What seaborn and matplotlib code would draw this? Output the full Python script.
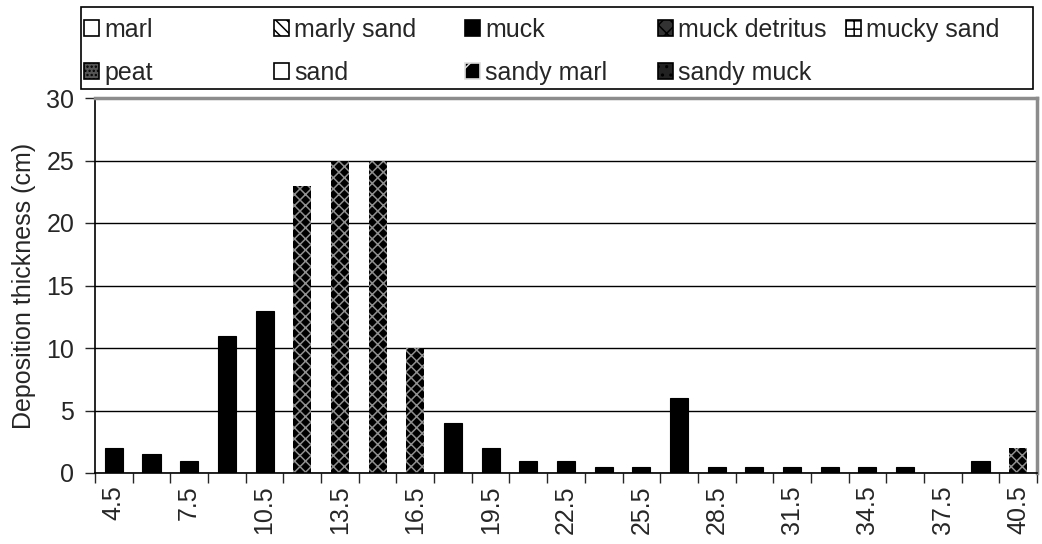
import pandas as pd
import matplotlib
matplotlib.use('Agg')
import matplotlib.pyplot as plt
import matplotlib.patches as mpatches
import seaborn as sns

depths = ['4.5', '6', '7.5', '9', '10.5', '12', '13.5', '15', '16.5', '18', '19.5', '21', '22.5',
          '24', '25.5', '27', '28.5', '30', '31.5', '33', '34.5', '36', '37.5', '39', '40.5']
thickness = [2, 1.5, 1, 11, 13, 23, 25, 25, 10, 4, 2, 1, 1,
             0.5, 0.5, 6, 0.5, 0.5, 0.5, 0.5, 0.5, 0.5, 0, 1, 2]
material = ['muck'] * 5 + ['muck detritus'] * 4 + ['muck'] * 15 + ['muck detritus']
legend_cols = [['marl', 'peat'], ['marly sand', 'sand'], ['muck', 'sandy marl'],
               ['muck detritus', 'sandy muck'], ['mucky sand']]

df = pd.DataFrame({'depth': depths, 'thickness': thickness, 'material': material})

sns.set_style('white')
plt.rcParams['font.family'] = ['Liberation Sans', 'DejaVu Sans']
plt.rcParams['hatch.linewidth'] = 1.1
FS = 18

fig = plt.figure(figsize=(10.42, 5.44), dpi=100)
ax = fig.add_axes([95 / 1042, 1 - 473 / 544, 942 / 1042, 375 / 544])

sns.barplot(data=df, x='depth', y='thickness', hue='material', order=depths,
            hue_order=['muck', 'muck detritus'], dodge=False, width=0.48,
            palette={'muck': 'black', 'muck detritus': 'black'},
            edgecolor='black', linewidth=0.8, legend=False, ax=ax)

# patterned fill for muck detritus bars
for bar in ax.patches:
    i = int(round(bar.get_x() + bar.get_width() / 2))
    if 0 <= i < len(material) and material[i] == 'muck detritus':
        bar.set_hatch('xxx')
        bar.set_edgecolor('#8f8f8f')
        bar.set_linewidth(0)

ax.set_ylim(0, 30)
ax.set_xlim(-0.5, len(depths) - 0.5)
ax.set_yticks(range(0, 31, 5))
ax.yaxis.grid(True, color='black', linewidth=1)
ax.set_axisbelow(True)
ax.tick_params(axis='y', labelsize=FS, length=7, width=1, direction='out', left=True, pad=8)

ax.set_xticks([i - 0.5 for i in range(len(depths) + 1)])
ax.set_xticklabels([])
ax.tick_params(axis='x', which='major', length=7, width=1, direction='out', bottom=True)
ax.set_xticks(range(0, len(depths), 2), minor=True)
ax.set_xticklabels(depths[::2], minor=True, rotation=90, fontsize=FS)
ax.tick_params(axis='x', which='minor', length=0, pad=9)

ax.set_xlabel('')
ax.set_ylabel('Deposition thickness (cm)', fontsize=FS, labelpad=7)

for s in ['left', 'bottom']:
    ax.spines[s].set_color('black')
    ax.spines[s].set_linewidth(1.2)
for s in ['top', 'right']:
    ax.spines[s].set_color('#8c8c8c')
    ax.spines[s].set_linewidth(2.5)

swatches = {
    'marl': dict(facecolor='white', edgecolor='black', hatch=''),
    'marly sand': dict(facecolor='white', edgecolor='black', hatch='\\\\\\'),
    'muck': dict(facecolor='black', edgecolor='black', hatch=''),
    'muck detritus': dict(facecolor='#333333', edgecolor='black', hatch='xx'),
    'mucky sand': dict(facecolor='white', edgecolor='black', hatch='++'),
    'peat': dict(facecolor='#555555', edgecolor='black', hatch='....'),
    'sand': dict(facecolor='white', edgecolor='black', hatch=''),
    'sandy marl': dict(facecolor='black', edgecolor='#dddddd', hatch='/'),
    'sandy muck': dict(facecolor='#222222', edgecolor='black', hatch='..'),
}

# legend: fixed-width columns inside one black frame
col_x = [84, 274, 465, 658, 846]
for names, x in zip(legend_cols, col_x):
    hs = [mpatches.Patch(linewidth=1.2, label=n, **swatches[n]) for n in names]
    leg = fig.legend(handles=hs, loc='upper left', bbox_to_anchor=(x / 1042, 1 - 18 / 544),
                     frameon=False, fontsize=FS, handlelength=0.6, handleheight=0.6,
                     handletextpad=0.2, borderaxespad=0, borderpad=0, labelspacing=0.75)
fig.add_artist(mpatches.Rectangle((81 / 1042, 1 - 89 / 544), 952 / 1042, 82 / 544,
                                  transform=fig.transFigure, fill=False,
                                  edgecolor='black', linewidth=1.2))

fig.savefig('out.png', dpi=100)
